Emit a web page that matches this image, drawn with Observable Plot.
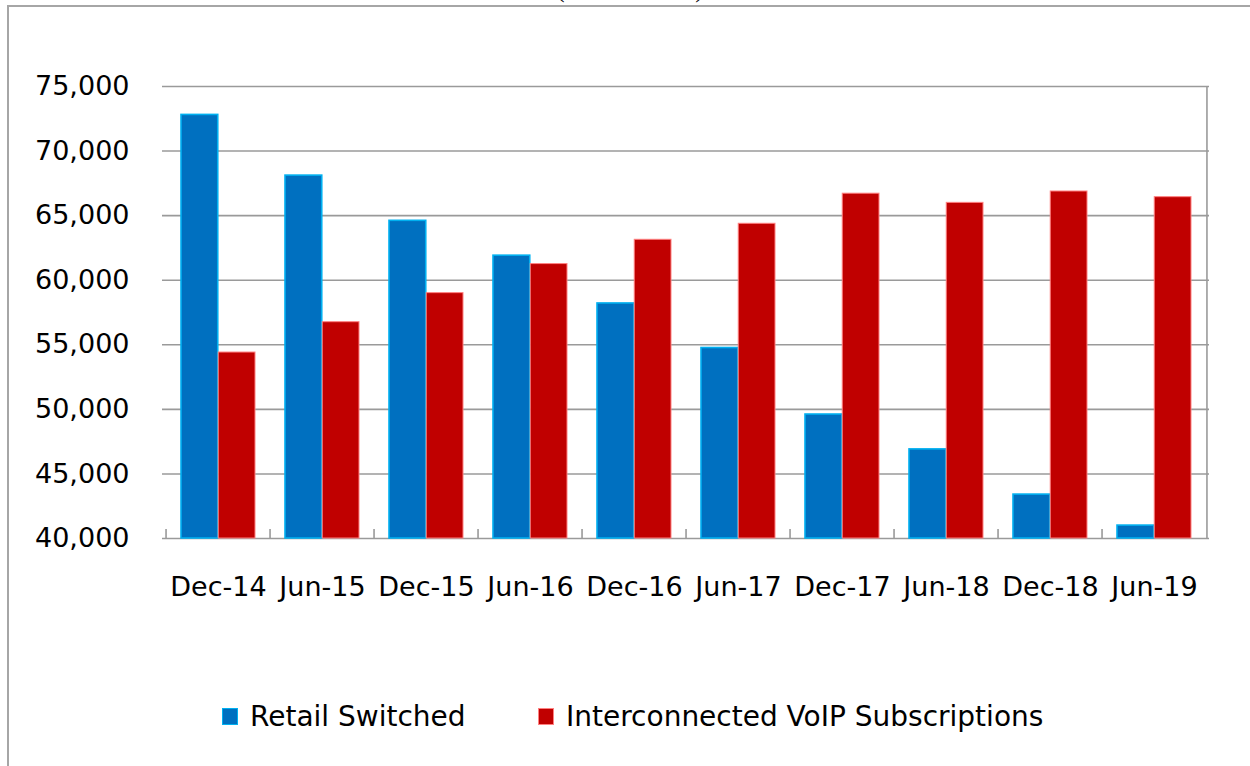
<!DOCTYPE html>
<html>
<head>
<meta charset="utf-8">
<script src="https://cdn.jsdelivr.net/npm/d3@7"></script>
<script src="https://cdn.jsdelivr.net/npm/@observablehq/plot@0.6"></script>
<style>
  body { margin: 0; background: #fff; overflow: hidden; }
  #wrap { position: relative; width: 1250px; height: 766px; overflow: hidden; font-family: "DejaVu Sans", sans-serif; }
  #frame { position: absolute; left: 7px; top: 5px; width: 1400px; height: 900px; border-left: 2px solid #a6a6a6; border-top: 2px solid #a6a6a6; }
  #sub { position: absolute; top: -24px; left: 0; width: 1260px; text-align: center; font-family: "Liberation Serif", serif; font-size: 26px; line-height: 26px; color: #000; white-space: nowrap; }
  #chart { position: absolute; left: 0; top: 0; }
  #legend { position: absolute; top: 699px; left: 0; width: 1250px; height: 34px; font-size: 28px; color: #000; white-space: nowrap; }
  .item { position: absolute; top: 0; display: flex; align-items: center; height: 34px; }
  .sw { width: 16px; height: 17px; margin-right: 12px; box-sizing: border-box; }
</style>
</head>
<body>
<div id="wrap">
  <div id="frame"></div>
  <div id="sub">(in thousands)</div>
  <div id="chart"></div>
  <div id="legend"></div>
</div>
<script>
// Data
const categories = ["Dec-14", "Jun-15", "Dec-15", "Jun-16", "Dec-16", "Jun-17", "Dec-17", "Jun-18", "Dec-18", "Jun-19"];
const retailSwitched = [72800, 68100, 64600, 61900, 58200, 54750, 49600, 46900, 43400, 41000];
const voipSubscriptions = [54400, 56750, 59000, 61250, 63130, 64370, 66700, 65990, 66870, 66430];
const yTicks = [40000, 45000, 50000, 55000, 60000, 65000, 70000, 75000];
const seriesNames = ["Retail Switched", "Interconnected VoIP Subscriptions"];
const seriesFill = ["#0070c0", "#c00000"];
const seriesStroke = ["#00b0f0", "#ff8080"];
const legendLeft = [222, 538];

const W = 1250, H = 640;
const mL = 162, mR = 41, mT = 86, mB = 102;
const plotW = W - mL - mR, plotH = H - mT - mB;
const pInner = 0.29, pOuter = 0.135;
const step = plotW / (categories.length - pInner + 2 * pOuter);
const bandW = step * (1 - pInner);
const half = bandW / 2;
const yMin = yTicks[0], yMax = yTicks[yTicks.length - 1];
const tickLen = 9 * (yMax - yMin) / plotH;

const retailData = categories.map((c, i) => ({date: c, value: retailSwitched[i]}));
const voipData = categories.map((c, i) => ({date: c, value: voipSubscriptions[i]}));

const chart = Plot.plot({
  width: W,
  height: H,
  marginLeft: mL,
  marginRight: mR,
  marginTop: mT,
  marginBottom: mB,
  style: {fontFamily: "DejaVu Sans, sans-serif", fontSize: "27px", color: "#000", background: "transparent", overflow: "visible"},
  x: {domain: categories, paddingInner: pInner, paddingOuter: pOuter, tickSize: 0, tickPadding: 38, label: null},
  y: {domain: [yMin, yMax], ticks: yTicks, tickFormat: d3.format(","), tickSize: 0, tickPadding: 33, label: null},
  marks: [
    Plot.ruleY(yTicks, {stroke: "#9a9a9a", strokeWidth: 1.6}),
    Plot.ruleX(categories, {x: d => d, dx: -step / 2, y1: yMin, y2: yMin + tickLen, stroke: "#9a9a9a", strokeWidth: 1.6}),
    Plot.ruleX([categories[categories.length - 1]], {x: d => d, dx: step / 2, y1: yMin, y2: yMax, stroke: "#9a9a9a", strokeWidth: 1.6}),
    Plot.barY(retailData, {x: "date", y1: yMin, y2: "value", insetRight: half, fill: seriesFill[0], stroke: seriesStroke[0], strokeWidth: 1.6}),
    Plot.barY(voipData, {x: "date", y1: yMin, y2: "value", insetLeft: half, fill: seriesFill[1], stroke: seriesStroke[1], strokeWidth: 1})
  ]
});
document.getElementById("chart").appendChild(chart);

const legend = document.getElementById("legend");
seriesNames.forEach((name, i) => {
  const item = document.createElement("div");
  item.className = "item";
  item.style.left = legendLeft[i] + "px";
  const sw = document.createElement("div");
  sw.className = "sw";
  sw.style.background = seriesFill[i];
  sw.style.border = "1.5px solid " + seriesStroke[i];
  const t = document.createElement("span");
  t.textContent = name;
  item.appendChild(sw);
  item.appendChild(t);
  legend.appendChild(item);
});
</script>
</body>
</html>
